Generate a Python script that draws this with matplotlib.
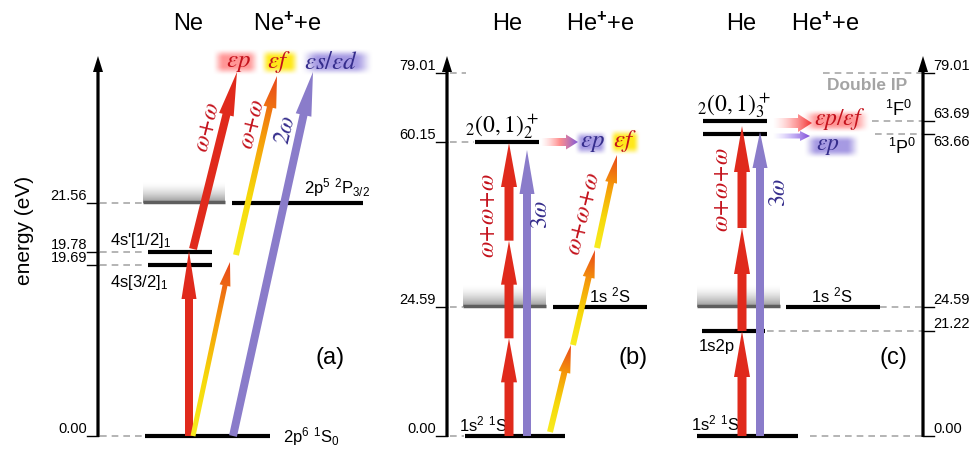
import numpy as np
import matplotlib.pyplot as plt
from matplotlib.patches import Polygon
from matplotlib.colors import LinearSegmentedColormap, to_rgb

plt.rcParams['font.family'] = ['Liberation Sans', 'DejaVu Sans']
plt.rcParams['mathtext.fontset'] = 'custom'
plt.rcParams['mathtext.rm'] = 'Liberation Sans'
plt.rcParams['mathtext.it'] = 'Liberation Sans:italic'
plt.rcParams['mathtext.bf'] = 'Liberation Sans:bold'

# energies written on the three axes (eV)
ne_energies = [0.00, 19.69, 19.78, 21.56]
heb_energies = [0.00, 24.59, 60.15, 79.01]
hec_energies = [0.00, 21.22, 24.59, 63.66, 63.69, 79.01]

# schematic heights of those levels in the drawing (pixel rows, not to scale)
ne_rows = [436, 265, 252, 203]
heb_rows = [436, 307, 142, 73]
hec_rows = [436, 331, 307, 134, 121, 73]

# axis positions (pixel columns)
ne_axis_x = 98
heb_axis_x = 447
hec_axis_x = 923

RED = '#e02a1c'
PURPLE = '#8a7cca'
TXT_RED = '#c4121c'
TXT_BLUE = '#352d8c'
YEL = ['#f8ec20', '#f6d80a', '#f59a0a', '#e8461a']
DASH = '#a8a8a8'
LBL = 12      # level labels
TICK = 10.5   # energy tick labels
WSZ = 17      # photon labels
ESZ = 18      # continuum labels

fig = plt.figure(figsize=(9.78, 4.5), dpi=100)
ax = fig.add_axes([0, 0, 1, 1])
ax.set_xlim(0, 978)
ax.set_ylim(450, 0)
ax.axis('off')


def arrow_poly(p0, p1, w, hw, hl):
    p0 = np.array(p0, float)
    p1 = np.array(p1, float)
    d = p1 - p0
    u = d / np.hypot(*d)
    n = np.array([-u[1], u[0]])
    b = p1 - u * hl
    return np.array([p0 + n * w / 2, b + n * w / 2, b + n * hw / 2, p1,
                     b - n * hw / 2, b - n * w / 2, p0 - n * w / 2])


def arrow(p0, p1, color, w=8, hw=15, hl=40, z=4):
    ax.add_patch(Polygon(arrow_poly(p0, p1, w, hw, hl), closed=True,
                         fc=color, ec='none', zorder=z))


def grad_arrow(p0, p1, colors, w=6, hw=12, hl=28, z=4):
    pts = arrow_poly(p0, p1, w, hw, hl)
    patch = Polygon(pts, closed=True, fc='none', ec='none')
    ax.add_patch(patch)
    x0, y0 = pts.min(0) - 1
    x1, y1 = pts.max(0) + 1
    X, Y = np.meshgrid(np.linspace(x0, x1, 150), np.linspace(y0, y1, 300))
    d = np.array(p1, float) - np.array(p0, float)
    t = np.clip(((X - p0[0]) * d[0] + (Y - p0[1]) * d[1]) / (d @ d), 0, 1)
    cmap = LinearSegmentedColormap.from_list('g', colors)
    im = ax.imshow(cmap(t), extent=(x0, x1, y0, y1), origin='lower',
                   aspect='auto', zorder=z, interpolation='bilinear')
    im.set_clip_path(patch)


def glow(xc, yc, wd, ht, color, a=0.9):
    u = np.linspace(0, 1, 120)
    v = np.linspace(0, 1, 40)
    fx = np.clip(np.minimum(u, 1 - u) / 0.25, 0, 1)
    fy = np.clip(np.minimum(v, 1 - v) / 0.35, 0, 1)
    fx = fx * fx * (3 - 2 * fx)
    fy = fy * fy * (3 - 2 * fy)
    img = np.zeros((40, 120, 4))
    img[..., :3] = to_rgb(color)
    img[..., 3] = np.outer(fy, fx) * a
    ax.imshow(img, extent=(xc - wd / 2, xc + wd / 2, yc - ht / 2, yc + ht / 2),
              origin='lower', aspect='auto', zorder=1, interpolation='bilinear')


def continuum(x0, x1, ytop, ybot):
    v = np.linspace(0, 1, 60)
    g = 1 - 0.42 * v ** 1.6
    img = np.ones((60, 2, 3)) * g[:, None, None]
    ax.imshow(img, extent=(x0, x1, ytop, ybot), origin='lower',
              aspect='auto', zorder=1, interpolation='bilinear')
    ax.plot([x0, x1], [ybot - 1, ybot - 1], color='#5e5e5e', lw=2.5,
            solid_capstyle='butt', zorder=2)


def level(x0, x1, y):
    ax.plot([x0, x1], [y, y], color='k', lw=3, solid_capstyle='butt', zorder=2)


def dashed(x0, x1, y):
    ax.plot([x0, x1], [y, y], color=DASH, lw=1.2, ls=(0, (4, 3)), zorder=1)


def energy_axis(x, energies, rows, side='left', below=()):
    arrow((x, rows[0] + 1), (x, 56), 'k', w=3.2, hw=10, hl=16, z=3)
    for e, y in zip(energies, rows):
        if side == 'left':
            ax.plot([x - 11, x], [y, y], color='k', lw=1, zorder=3)
            ax.text(x - 11, y - 3, f'{e:.2f}', ha='right', va='baseline', fontsize=TICK)
        else:
            ax.plot([x, x + 11], [y, y], color='k', lw=1, zorder=3)
            yb = y + 12 if e in below else y - 3
            ax.text(x + 10, yb, f'{e:.2f}', ha='left', va='baseline', fontsize=TICK)


def wlabel(x, y, s, color, rot):
    ax.text(x, y, s, color=color, fontsize=WSZ, rotation=rot, ha='center',
            va='center', math_fontfamily='stix', zorder=6, rotation_mode='anchor')


def elabel(x, y, s, color, size=ESZ):
    ax.text(x, y, s, color=color, fontsize=size, ha='center', va='center',
            math_fontfamily='stix', zorder=6)


# ---------------- panel (a): Ne ----------------
R = dict(zip(ne_energies, ne_rows))
energy_axis(ne_axis_x, ne_energies, ne_rows)
ax.text(25, 230, 'energy (eV)', rotation=90, fontsize=15, ha='center', va='center')
ax.text(188, 24, 'Ne', fontsize=17, ha='center', va='center')
ax.text(287, 24, r'Ne$^{\mathbf{+}}$+e', fontsize=17, ha='center', va='center')
for e in ne_energies:
    dashed(100, 146, R[e])
level(145, 270, R[0.00])
level(148, 212, R[19.78])
level(148, 212, R[19.69])
continuum(143, 225, 182, R[21.56])
level(232, 363, R[21.56])
ax.text(283, R[0.00] + 1, r'2p$^6$ $^1$S$_0$', fontsize=LBL, ha='left', va='center')
ax.text(110, R[19.78] - 11, r"4s'[1/2]$_1$", fontsize=LBL, ha='left', va='center')
ax.text(110, R[19.69] + 18, r'4s[3/2]$_1$', fontsize=LBL, ha='left', va='center')
ax.text(304, R[21.56] - 15, r'2p$^5$ $^2$P$_{3/2}$', fontsize=LBL, ha='left', va='center')

arrow((189, R[0.00]), (189, R[19.78] - 1), RED, w=8, hw=15, hl=48)
arrow((193, R[19.78] - 3), (237, 72), RED, w=8, hw=15, hl=44)
grad_arrow((193, R[0.00]), (230, 262), YEL, w=5, hw=11, hl=24)
grad_arrow((236, 255), (277, 76), YEL, w=6, hw=13, hl=32)
arrow((233, R[0.00]), (313, 72), PURPLE, w=8, hw=16, hl=44)
wlabel(207, 127, r'$\omega\!+\!\omega$', TXT_RED, 76)
wlabel(252, 124, r'$\omega\!+\!\omega$', TXT_RED, 76)
wlabel(286, 130, r'$2\omega$', TXT_BLUE, 76)

glow(236, 62, 48, 28, '#ff8a8a')
glow(280, 62, 40, 28, '#ffe600')
glow(337, 62, 74, 28, '#9c8fe0')
elabel(238, 62, r'$\varepsilon p$', TXT_RED)
elabel(279, 62, r'$\varepsilon f$', TXT_RED)
elabel(331, 62, r'$\varepsilon s/\varepsilon d$', TXT_BLUE)
ax.text(330, 358, '(a)', fontsize=17, ha='center', va='center')

# ---------------- panel (b): He, two-colour ----------------
R = dict(zip(heb_energies, heb_rows))
energy_axis(heb_axis_x, heb_energies, heb_rows)
ax.text(507, 24, 'He', fontsize=17, ha='center', va='center')
ax.text(600, 24, r'He$^{\mathbf{+}}$+e', fontsize=17, ha='center', va='center')
for e, x1 in zip(heb_energies, [464, 463, 474, 466]):
    dashed(450, x1, R[e])
level(465, 565, R[0.00])
continuum(463, 546, 285, R[24.59])
level(553, 647, R[24.59])
level(475, 539, R[60.15])
ax.text(459, R[0.00] - 12, r'1s$^2$ $^1$S', fontsize=LBL, ha='left', va='center')
ax.text(610, R[24.59] - 12, r'1s $^2$S', fontsize=LBL, ha='center', va='center')
ax.text(502, 132, r'${}_2(0,1)_2^+$', fontsize=17, ha='center', va='baseline',
        math_fontfamily='stix')

steps = np.linspace(R[0.00], R[60.15] + 1, 4)
for a, b in zip(steps[:-1], steps[1:]):
    arrow((509, a), (509, b), RED, w=9, hw=16, hl=44)
arrow((527, R[0.00]), (527, 150), PURPLE, w=8, hw=15, hl=44)
grad_arrow((550, 432), (571, 345), YEL, w=6, hw=12, hl=28)
grad_arrow((573, 345), (595, 250), YEL, w=6, hw=12, hl=28)
grad_arrow((597, 248), (617, 155), YEL, w=6, hw=12, hl=28)
wlabel(488, 216, r'$\omega\!+\!\omega\!+\!\omega$', TXT_RED, 90)
wlabel(541, 214, r'$3\omega$', TXT_BLUE, 90)
wlabel(583, 214, r'$\omega\!+\!\omega\!+\!\omega$', TXT_RED, 76)

grad_arrow((541, R[60.15]), (578, R[60.15]),
           [(1, 0.7, 0.7, 0.0), (1, 0.45, 0.45, 0.8), (0.5, 0.35, 0.85, 1)],
           w=8, hw=15, hl=12)
glow(591, 143, 34, 26, '#9c8fe0')
glow(625, 142, 32, 28, '#ffe600')
elabel(592, 142, r'$\varepsilon p$', TXT_BLUE)
elabel(625, 141, r'$\varepsilon f$', TXT_RED)
ax.text(633, 358, '(b)', fontsize=17, ha='center', va='center')

# ---------------- panel (c): He, single colour ----------------
R = dict(zip(hec_energies, hec_rows))
energy_axis(hec_axis_x, hec_energies, hec_rows, side='right', below=(63.66,))
ax.text(741, 24, 'He', fontsize=17, ha='center', va='center')
ax.text(825, 24, r'He$^{\mathbf{+}}$+e', fontsize=17, ha='center', va='center')
for e, x0 in zip(hec_energies, [810, 767, 880, 875, 872, 823]):
    dashed(x0, hec_axis_x, R[e])
level(697, 798, R[0.00])
level(702, 765, R[21.22])
continuum(697, 780, 285, R[24.59])
level(786, 880, R[24.59])
level(703, 767, R[63.66])
level(703, 767, R[63.69])
ax.text(691, R[0.00] - 13, r'1s$^2$ $^1$S', fontsize=LBL, ha='left', va='center')
ax.text(699, R[21.22] + 16, '1s2p', fontsize=LBL, ha='left', va='center')
ax.text(832, R[24.59] - 12, r'1s $^2$S', fontsize=LBL, ha='center', va='center')
ax.text(734, 111, r'${}_2(0,1)_3^+$', fontsize=17, ha='center', va='baseline',
        math_fontfamily='stix')
ax.text(867, 85, 'Double IP', fontsize=12.5, fontweight='bold', color='#a4a4a4',
        ha='center', va='center')
ax.text(899, 110, r'$^1$F$^0$', fontsize=13, ha='center', va='center')
ax.text(902, 148, r'$^1$P$^0$', fontsize=13, ha='center', va='center')

steps = [R[0.00], R[21.22], 228, 126]
for a, b in zip(steps[:-1], steps[1:]):
    arrow((742, a), (742, b), RED, w=9, hw=16, hl=46)
arrow((760, R[0.00]), (760, 132), PURPLE, w=8, hw=15, hl=36)
wlabel(722, 190, r'$\omega\!+\!\omega\!+\!\omega$', TXT_RED, 90)
wlabel(779, 192, r'$3\omega$', TXT_BLUE, 90)

grad_arrow((773, 123), (812, 123),
           [(1, 0.75, 0.75, 0.0), (1, 0.55, 0.55, 0.7), (0.95, 0.2, 0.2, 1)],
           w=10, hw=18, hl=14)
grad_arrow((773, 136), (810, 136),
           [(0.8, 0.75, 1, 0.0), (0.7, 0.6, 0.95, 0.7), (0.5, 0.3, 0.85, 1)],
           w=5, hw=10, hl=10)
glow(836, 121, 70, 24, '#ff8a8a')
glow(832, 146, 58, 26, '#9c8fe0')
elabel(840, 119, r'$\varepsilon p/\varepsilon f$', TXT_RED, 17)
elabel(828, 146, r'$\varepsilon p$', TXT_BLUE, 17)
ax.text(893, 358, '(c)', fontsize=17, ha='center', va='center')

fig.savefig('out.png', dpi=100)
